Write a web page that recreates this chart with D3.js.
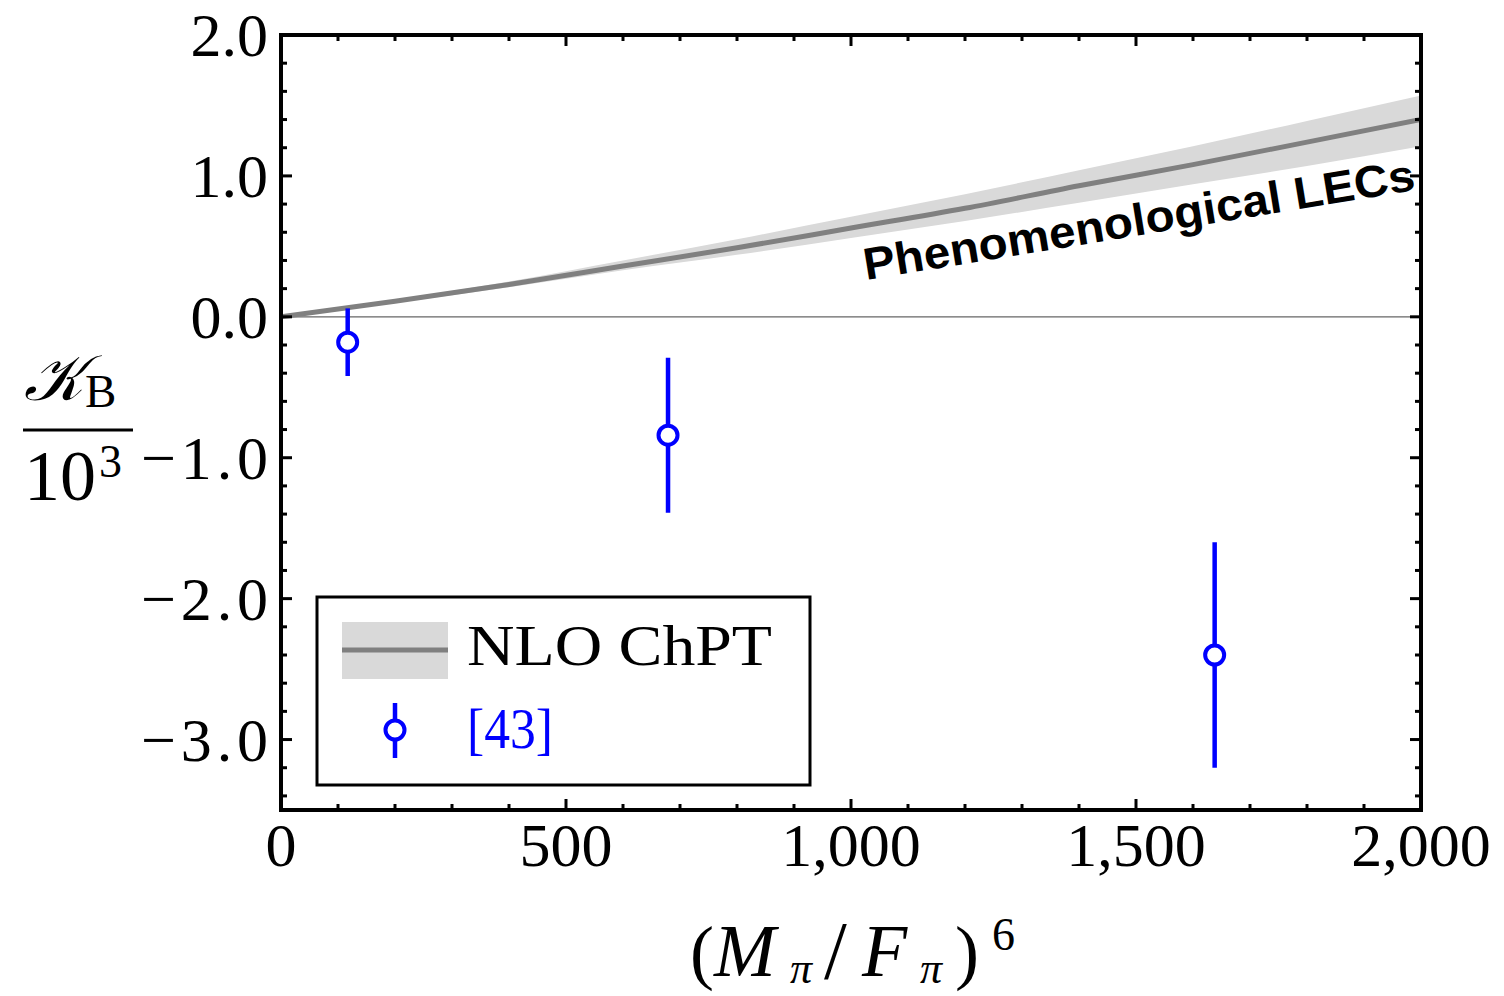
<!DOCTYPE html>
<html><head><meta charset="utf-8">
<script src="https://cdn.jsdelivr.net/npm/d3@7"></script>
<style>body{margin:0;background:#fff;} svg{display:block;}</style>
</head><body>
<svg id="c" width="1504" height="996"></svg>
<script>
// ---- data ----
const bandX     = [0, 200, 400, 600, 800, 1000, 1200, 1400, 1600, 1800, 2000];
const bandMid   = [0, 0.11, 0.23, 0.36, 0.49, 0.63, 0.77, 0.93, 1.08, 1.24, 1.40];
const bandUpper = [0, 0.12, 0.25, 0.40, 0.55, 0.71, 0.87, 1.04, 1.21, 1.39, 1.57];
const bandLower = [0, 0.10, 0.21, 0.33, 0.44, 0.56, 0.68, 0.81, 0.94, 1.07, 1.21];
const ptX   = [117, 679, 1638];
const ptY   = [-0.18, -0.84, -2.40];
const ptLo  = [-0.42, -1.39, -3.20];
const ptHi  = [0.06, -0.29, -1.60];
const xTicks = [0, 500, 1000, 1500, 2000];
const xTickLabels = ["0", "500", "1,000", "1,500", "2,000"];
const yTicks = [2, 1, 0, -1, -2, -3];
const yTickLabels = ["2.0", "1.0", "0.0", "\u22121.0", "\u22122.0", "\u22123.0"];

const svg = d3.select("#c");
const L = 281, R = 1421, T = 35, B = 810;
const x = d3.scaleLinear().domain([0, 2000]).range([L, R]);
const y = d3.scaleLinear().domain([-3.5, 2.0]).range([B, T]);

const serif = "'Liberation Serif','DejaVu Serif',serif";

const g = svg.append("g");
g.append("clipPath").attr("id","clip").append("rect").attr("x",L).attr("y",T).attr("width",R-L).attr("height",B-T);
const pg = g.append("g").attr("clip-path","url(#clip)");

// zero line
pg.append("line").attr("x1",L).attr("x2",R).attr("y1",y(0)).attr("y2",y(0)).attr("stroke","#666").attr("stroke-width",1.2);

// band
const bandData = bandX.map((d,i)=>({x:d, lo:bandLower[i], hi:bandUpper[i], m:bandMid[i]}));
pg.append("path").datum(bandData)
  .attr("d", d3.area().x(d=>x(d.x)).y0(d=>y(d.lo)).y1(d=>y(d.hi)).curve(d3.curveMonotoneX))
  .attr("fill","#d9d9d9");
pg.append("path").datum(bandData)
  .attr("d", d3.line().x(d=>x(d.x)).y(d=>y(d.m)).curve(d3.curveMonotoneX))
  .attr("fill","none").attr("stroke","#808080").attr("stroke-width",5);

// label on band
pg.append("text").attr("transform", "translate(866,280) rotate(-9.3)")
  .attr("font-family","'Liberation Sans',Arial,sans-serif").attr("font-weight","bold")
  .attr("font-size",45).attr("textLength",558).attr("lengthAdjust","spacingAndGlyphs")
  .attr("fill","#000").text("Phenomenological LECs");

// data points
const pts = ptX.map((d,i)=>({x:d,y:ptY[i],lo:ptLo[i],hi:ptHi[i]}));
const pgp = g.append("g");
pgp.selectAll("line.err").data(pts).enter().append("line")
  .attr("x1",d=>x(d.x)).attr("x2",d=>x(d.x)).attr("y1",d=>y(d.lo)).attr("y2",d=>y(d.hi))
  .attr("stroke","#0000ff").attr("stroke-width",4.5);
pgp.selectAll("circle").data(pts).enter().append("circle")
  .attr("cx",d=>x(d.x)).attr("cy",d=>y(d.y)).attr("r",9.5)
  .attr("fill","#fff").attr("stroke","#0000ff").attr("stroke-width",4);

// ticks (inward, all four sides)
const tk = g.append("g").attr("stroke","#000").attr("stroke-width",3);
d3.range(0, 2001, 100).forEach(v=>{
  const len = (v % 500 === 0) ? 11 : 6;
  tk.append("line").attr("x1",x(v)).attr("x2",x(v)).attr("y1",B).attr("y2",B-len);
  tk.append("line").attr("x1",x(v)).attr("x2",x(v)).attr("y1",T).attr("y2",T+len);
});
d3.range(-3.4, 2.01, 0.2).forEach(v=>{
  const major = Math.abs(v - Math.round(v)) < 1e-6;
  const len = major ? 11 : 6;
  tk.append("line").attr("y1",y(v)).attr("y2",y(v)).attr("x1",L).attr("x2",L+len);
  tk.append("line").attr("y1",y(v)).attr("y2",y(v)).attr("x1",R).attr("x2",R-len);
});

// frame
g.append("rect").attr("x",L).attr("y",T).attr("width",R-L).attr("height",B-T)
  .attr("fill","none").attr("stroke","#000").attr("stroke-width",4);

// tick labels
g.selectAll("text.xt").data(xTicks).enter().append("text")
  .attr("x",d=>x(d)).attr("y",866).attr("text-anchor","middle")
  .attr("font-family",serif).attr("font-size",62).text((d,i)=>xTickLabels[i]);
g.selectAll("text.yt").data(yTicks).enter().append("text")
  .attr("x",268).attr("y",d=>y(d)+21).attr("text-anchor","end")
  .attr("font-family",serif).attr("font-size",62)
  .each(function(d){ if (d < 0) d3.select(this).attr("textLength",127).attr("lengthAdjust","spacing"); })
  .text((d,i)=>yTickLabels[i]);

// y axis label: K_B / 10^3
const yl = g.append("g").attr("font-family",serif).attr("fill","#000");
yl.append("text").attr("x",24).attr("y",400).attr("font-size",64).attr("font-style","italic")
  .attr("font-family","'DejaVu Serif',serif").text("\uD835\uDCA6");
yl.append("text").attr("x",85).attr("y",407).attr("font-size",47).text("B");
yl.append("line").attr("x1",23).attr("x2",133).attr("y1",430).attr("y2",430).attr("stroke","#000").attr("stroke-width",3);
yl.append("text").attr("x",24).attr("y",500).attr("font-size",72).text("10");
yl.append("text").attr("x",99).attr("y",477).attr("font-size",46).text("3");

// x axis label: (M_pi / F_pi)^6
const xl = g.append("g").attr("font-family",serif).attr("fill","#000");
xl.append("text").attr("x",690).attr("y",976).attr("font-size",72).text("(");
xl.append("text").attr("x",714).attr("y",976).attr("font-size",74).attr("font-style","italic").text("M");
xl.append("text").attr("x",790).attr("y",983).attr("font-size",44).attr("font-style","italic").text("\u03C0");
xl.append("text").attr("x",824).attr("y",978).attr("font-size",82).text("/");
xl.append("text").attr("x",862).attr("y",976).attr("font-size",74).attr("font-style","italic").text("F");
xl.append("text").attr("x",920).attr("y",983).attr("font-size",44).attr("font-style","italic").text("\u03C0");
xl.append("text").attr("x",955).attr("y",976).attr("font-size",72).text(")");
xl.append("text").attr("x",992).attr("y",950).attr("font-size",46).text("6");

// legend
const lg = g.append("g");
lg.append("rect").attr("x",317).attr("y",597).attr("width",493).attr("height",188)
  .attr("fill","#fff").attr("stroke","#000").attr("stroke-width",3);
lg.append("rect").attr("x",342).attr("y",622).attr("width",106).attr("height",57).attr("fill","#d9d9d9");
lg.append("line").attr("x1",342).attr("x2",448).attr("y1",650).attr("y2",650).attr("stroke","#808080").attr("stroke-width",5);
lg.append("text").attr("x",467).attr("y",665).attr("font-family",serif).attr("font-size",58)
  .attr("textLength",305).attr("lengthAdjust","spacingAndGlyphs").text("NLO ChPT");
lg.append("line").attr("x1",395).attr("x2",395).attr("y1",703).attr("y2",758).attr("stroke","#0000ff").attr("stroke-width",4.5);
lg.append("circle").attr("cx",395).attr("cy",730).attr("r",9.5).attr("fill","#fff").attr("stroke","#0000ff").attr("stroke-width",4);
lg.append("text").attr("x",467).attr("y",748).attr("font-family",serif).attr("font-size",56)
  .attr("textLength",86).attr("lengthAdjust","spacingAndGlyphs").attr("fill","#0000ff").text("[43]");
</script>
</body></html>
